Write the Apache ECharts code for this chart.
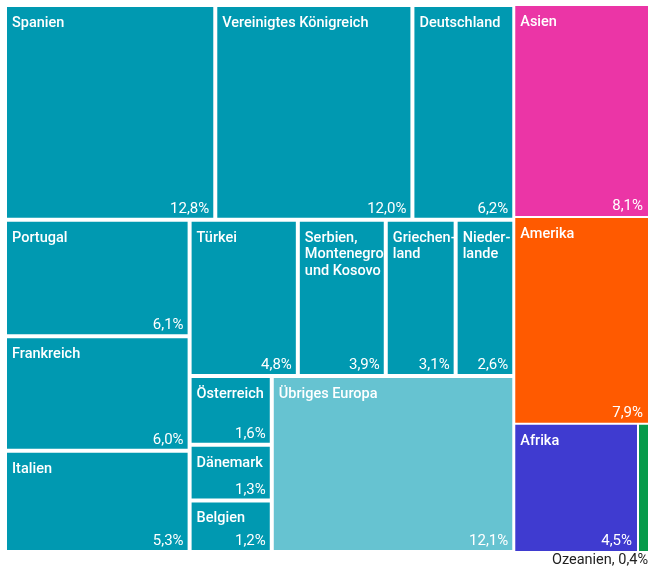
<!DOCTYPE html>
<html>
<head>
<meta charset="utf-8">
<script src="https://cdn.jsdelivr.net/npm/echarts@6/dist/echarts.min.js"></script>
<style>
  html, body { margin: 0; padding: 0; background: #fff; }
  #chart { width: 650px; height: 568px; }
</style>
</head>
<body>
<div id="chart"></div>
<script>
// Anteile in Prozent
var europeNames = ['Spanien', 'Vereinigtes Königreich', 'Deutschland', 'Portugal', 'Frankreich', 'Italien',
  'Türkei', 'Serbien,\nMontenegro\nund Kosovo', 'Griechen-\nland', 'Nieder-\nlande',
  'Österreich', 'Dänemark', 'Belgien', 'Übriges Europa'];
var europeValues = [12.8, 12.0, 6.2, 6.1, 6.0, 5.3, 4.8, 3.9, 3.1, 2.6, 1.6, 1.3, 1.2, 12.1];
var otherNames = ['Asien', 'Amerika', 'Afrika', 'Ozeanien'];
var otherValues = [8.1, 7.9, 4.5, 0.4];

var teal = '#0099b1';
var colorMap = {
  'Übriges Europa': '#66c3d1',
  'Asien': '#eb35a6',
  'Amerika': '#ff5a00',
  'Afrika': '#3f3bd0',
  'Ozeanien': '#079a4a'
};

function pct(v) {
  return v.toFixed(1).replace('.', ',') + '%';
}

function buildData(overlay) {
  var europe = {
    name: 'Europa',
    itemStyle: { color: overlay ? 'transparent' : teal, borderWidth: 0, gapWidth: 2 },
    children: []
  };
  for (var i = 0; i < europeNames.length; i++) {
    europe.children.push({
      name: europeNames[i],
      value: europeValues[i],
      itemStyle: { color: overlay ? 'transparent' : (colorMap[europeNames[i]] || teal) }
    });
  }
  var data = [europe];
  for (var j = 0; j < otherNames.length; j++) {
    var item = {
      name: otherNames[j],
      value: otherValues[j],
      itemStyle: { color: overlay ? 'transparent' : colorMap[otherNames[j]] }
    };
    if (otherNames[j] === 'Ozeanien') {
      item.label = { show: false };
    }
    data.push(item);
  }
  return data;
}

var common = {
  type: 'treemap',
  left: 6,
  top: 6,
  right: 2,
  bottom: 17,
  sort: false,
  roam: false,
  nodeClick: false,
  breadcrumb: { show: false },
  upperLabel: { show: false },
  levels: [
    { itemStyle: { gapWidth: 2, borderWidth: 0 } },
    { itemStyle: { gapWidth: 2, borderWidth: 0 } },
    { itemStyle: { gapWidth: 0 } }
  ]
};

var option = {
  backgroundColor: '#fff',
  animation: false,
  series: [
    Object.assign({}, common, {
      itemStyle: { borderWidth: 1, borderColor: 'rgba(255,255,255,0.35)' },
      label: {
        show: true,
        position: 'insideTopLeft',
        padding: [8, 0, 0, 5],
        color: '#fff',
        fontFamily: 'Roboto',
        fontWeight: 500,
        fontSize: 14.5,
        lineHeight: 16.5,
        overflow: 'none',
        formatter: function (p) { return p.name; }
      },
      data: buildData(false)
    }),
    Object.assign({}, common, {
      silent: true,
      itemStyle: { borderWidth: 0, color: 'transparent' },
      label: {
        show: true,
        position: 'insideBottomRight',
        padding: [0, 5, 2, 0],
        color: '#fff',
        fontFamily: 'Roboto',
        fontWeight: 400,
        fontSize: 15,
        overflow: 'none',
        formatter: function (p) { return pct(p.value); }
      },
      data: buildData(true)
    })
  ],
  graphic: [{
    type: 'text',
    right: 2,
    bottom: 0,
    style: {
      text: 'Ozeanien, ' + pct(otherValues[3]),
      fill: '#222',
      font: '14.5px Roboto'
    }
  }]
};

var myChart = echarts.init(document.getElementById('chart'));
myChart.setOption(option);
</script>
</body>
</html>
